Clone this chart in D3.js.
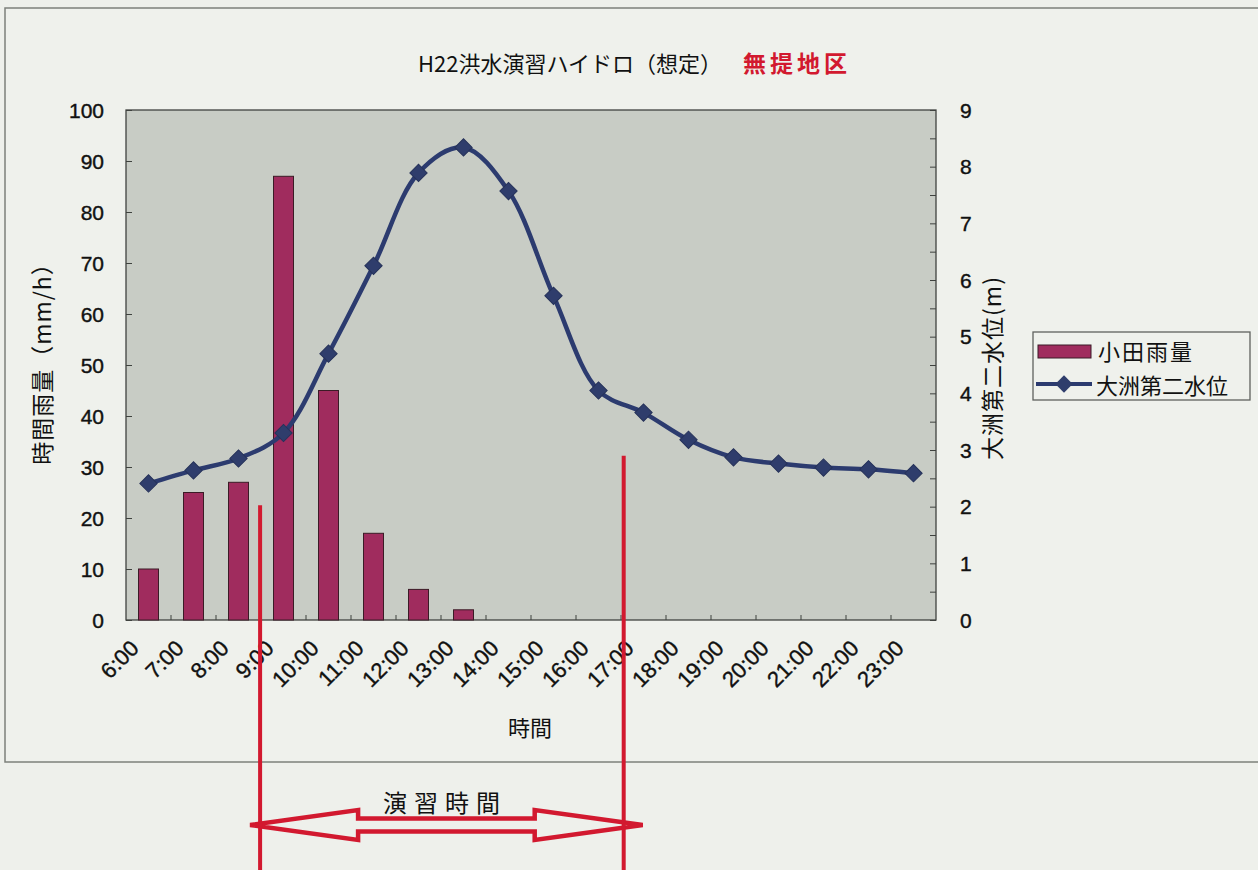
<!DOCTYPE html>
<html>
    <head>
        <meta charset="utf-8">
        <title>H22洪水演習ハイドロ</title>
        <script src="https://d3js.org/d3.v7.min.js"></script>
        <style>
            body {
                margin:0;
                background:#eef0eb;
            }
            svg {
                display:block;
                font-family:"Liberation Sans", Arial, sans-serif;
            }
            .jp {
                font-family:"Noto Sans CJK JP", sans-serif;
            }
            .num {
                stroke:#111;
                stroke-width:0.4px;
            }
        </style>
    </head>
    <body>
        <svg id="chart" width="1258" height="870"></svg>
    </body>
    <script>

        // data
        const hours = ['6:00','7:00','8:00','9:00','10:00','11:00','12:00','13:00','14:00',
                       '15:00','16:00','17:00','18:00','19:00','20:00','21:00','22:00','23:00'];
        const rain = [10, 25, 27, 87, 45, 17, 6, 2, 0, 0, 0, 0, 0, 0, 0, 0, 0, 0];   // 小田雨量 mm/h
        const level = [2.41, 2.64, 2.85, 3.30, 4.70, 6.25, 7.89, 8.34, 7.57,
                       5.72, 4.05, 3.66, 3.18, 2.87, 2.76, 2.69, 2.66, 2.59];      // 大洲第二水位 m
        const rainTicks = d3.range(0, 101, 10);
        const levelTicks = d3.range(0, 10, 1);
        // drill time span (hours) and where the red marker lines start (in mm/h)
        const drillHours = [8.48, 16.56];
        const drillLineTop = [22.5, 32.2];

        const svg = d3.select('#chart');
        const red = '#d2192f';
        const ink = '#111';

        // plot box
        const plotL = 126, plotR = 936, plotT = 110, plotB = 620;

        const x = d3.scaleBand().domain(hours).range([plotL, plotR]);
        const bw = x.bandwidth();
        const yRain = d3.scaleLinear().domain([0, 100]).range([plotB, plotT]);
        const yLevel = d3.scaleLinear().domain([0, 9]).range([plotB, plotT]);
        const hourX = d3.scaleLinear().domain([6, 23]).range([x('6:00') + bw / 2, x('23:00') + bw / 2]);

        // outer frame of the chart
        svg.append('rect')
            .attr('x', 5).attr('y', 8)
            .attr('width', 1270).attr('height', 754)
            .attr('fill', '#eff1ec')
            .attr('stroke', '#7d807b')
            .attr('stroke-width', 1.5);

        // plot background
        svg.append('rect')
            .attr('x', plotL).attr('y', plotT)
            .attr('width', plotR - plotL).attr('height', plotB - plotT)
            .attr('fill', '#c8ccc5')
            .attr('stroke', '#3f423f')
            .attr('stroke-width', 1.3);

        // title
        svg.append('text')
            .attr('class', 'jp')
            .attr('x', 418).attr('y', 72)
            .attr('font-size', 22)
            .attr('fill', ink)
            .text('H22洪水演習ハイドロ（想定）');
        svg.append('text')
            .attr('class', 'jp')
            .attr('x', 743).attr('y', 72)
            .attr('font-size', 23)
            .attr('font-weight', 'bold')
            .attr('letter-spacing', 4)
            .attr('fill', red)
            .text('無提地区');

        // bars
        svg.append('g').selectAll('rect')
            .data(rain)
            .join('rect')
            .attr('x', (d, i) => x(hours[i]) + bw / 2 - 10)
            .attr('y', d => yRain(d))
            .attr('width', 20)
            .attr('height', d => yRain(0) - yRain(d))
            .attr('fill', '#a02c5e')
            .attr('stroke', '#3b1b26')
            .attr('stroke-width', 1);

        // left axis
        const axisL = svg.append('g').attr('transform', `translate(${plotL},0)`)
            .call(d3.axisRight(yRain).tickValues(rainTicks).tickSize(6).tickFormat(''));
        axisL.select('.domain').remove();
        axisL.selectAll('line').attr('stroke', '#3f423f');
        svg.append('g').selectAll('text')
            .data(rainTicks)
            .join('text')
            .attr('class', 'num')
            .attr('x', 104)
            .attr('y', d => yRain(d))
            .attr('dy', '0.36em')
            .attr('text-anchor', 'end')
            .attr('font-size', 21)
            .attr('fill', ink)
            .text(d => d);

        // right axis
        const axisR = svg.append('g').attr('transform', `translate(${plotR},0)`)
            .call(d3.axisLeft(yLevel).tickValues(d3.range(0, 9.01, 0.5)).tickSize(6).tickFormat(''));
        axisR.select('.domain').remove();
        axisR.selectAll('line').attr('stroke', '#3f423f');
        svg.append('g').selectAll('text')
            .data(levelTicks)
            .join('text')
            .attr('class', 'num')
            .attr('x', 960)
            .attr('y', d => yLevel(d))
            .attr('dy', '0.36em')
            .attr('font-size', 21)
            .attr('fill', ink)
            .text(d => d);

        // bottom axis ticks (category boundaries) and rotated labels
        svg.append('g').selectAll('line')
            .data(hours.slice(1))
            .join('line')
            .attr('x1', d => x(d)).attr('x2', d => x(d))
            .attr('y1', plotB).attr('y2', plotB - 5)
            .attr('stroke', '#3f423f');
        svg.append('g').selectAll('text')
            .data(hours)
            .join('text')
            .attr('class', 'num')
            .attr('transform', d => `translate(${x(d) + bw / 2 - 14},${plotB + 24}) rotate(-45)`)
            .attr('text-anchor', 'end')
            .attr('dy', '0.36em')
            .attr('font-size', 22)
            .attr('fill', ink)
            .text(d => d);

        // axis titles
        svg.append('text')
            .attr('class', 'jp')
            .attr('transform', 'translate(51,358) rotate(-90)')
            .attr('text-anchor', 'middle')
            .attr('font-size', 23)
            .attr('letter-spacing', 1)
            .attr('fill', ink)
            .text('時間雨量（mm/h）');
        svg.append('text')
            .attr('class', 'jp')
            .attr('transform', 'translate(1001,368) rotate(-90)')
            .attr('text-anchor', 'middle')
            .attr('font-size', 23)
            .attr('letter-spacing', 1)
            .attr('fill', ink)
            .text('大洲第二水位(m)');
        svg.append('text')
            .attr('class', 'jp')
            .attr('x', 530).attr('y', 736)
            .attr('text-anchor', 'middle')
            .attr('font-size', 22)
            .attr('fill', ink)
            .text('時間');

        // water level line
        const line = d3.line()
            .x((d, i) => x(hours[i]) + bw / 2)
            .y(d => yLevel(d))
            .curve(d3.curveCatmullRom.alpha(0.5));
        svg.append('path')
            .datum(level)
            .attr('d', line)
            .attr('fill', 'none')
            .attr('stroke', '#2c3b6f')
            .attr('stroke-width', 4.5);

        const diamond = d3.symbol(d3.symbolSquare, 150);
        svg.append('g').selectAll('path')
            .data(level)
            .join('path')
            .attr('transform', (d, i) => `translate(${x(hours[i]) + bw / 2},${yLevel(d)}) rotate(45)`)
            .attr('d', diamond)
            .attr('fill', '#2f3d6c')
            .attr('stroke', '#26325a')
            .attr('stroke-width', 1);

        // legend
        const legend = svg.append('g');
        legend.append('rect')
            .attr('x', 1033).attr('y', 332)
            .attr('width', 217).attr('height', 68)
            .attr('fill', '#eff1ec')
            .attr('stroke', '#5f625e')
            .attr('stroke-width', 1.3);
        legend.append('rect')
            .attr('x', 1038).attr('y', 345)
            .attr('width', 53).attr('height', 13)
            .attr('fill', '#a02c5e')
            .attr('stroke', '#3b1b26');
        legend.append('text')
            .attr('class', 'jp')
            .attr('x', 1098).attr('y', 360)
            .attr('font-size', 22)
            .attr('letter-spacing', 2)
            .attr('fill', ink)
            .text('小田雨量');
        legend.append('line')
            .attr('x1', 1036).attr('x2', 1092)
            .attr('y1', 384).attr('y2', 384)
            .attr('stroke', '#2c3b6f')
            .attr('stroke-width', 4);
        legend.append('path')
            .attr('transform', 'translate(1064,384) rotate(45)')
            .attr('d', diamond)
            .attr('fill', '#2f3d6c');
        legend.append('text')
            .attr('class', 'jp')
            .attr('x', 1096).attr('y', 394)
            .attr('font-size', 22)
            .attr('fill', ink)
            .text('大洲第二水位');

        // drill period annotation
        const xs = hourX(drillHours[0]), xe = hourX(drillHours[1]);
        const cy = 825, head = 108;
        const tipL = xs - 10, tipR = xe + 19;
        const arrowPts = [
            [tipL, cy], [tipL + head, cy - 15], [tipL + head, cy - 6.5],
            [tipR - head, cy - 6.5], [tipR - head, cy - 15], [tipR, cy],
            [tipR - head, cy + 15], [tipR - head, cy + 6.5],
            [tipL + head, cy + 6.5], [tipL + head, cy + 15]
        ];
        svg.append('path')
            .attr('d', d3.line()(arrowPts) + 'Z')
            .attr('fill', '#eef0eb')
            .attr('stroke', red)
            .attr('stroke-width', 4.5)
            .attr('stroke-linejoin', 'miter');

        svg.append('g').selectAll('line')
            .data(drillHours)
            .join('line')
            .attr('x1', d => hourX(d)).attr('x2', d => hourX(d))
            .attr('y1', (d, i) => yRain(drillLineTop[i]))
            .attr('y2', 870)
            .attr('stroke', red)
            .attr('stroke-width', 4);

        svg.append('text')
            .attr('class', 'jp')
            .attr('x', (xs + xe) / 2 + 3).attr('y', 812)
            .attr('text-anchor', 'middle')
            .attr('font-size', 24)
            .attr('letter-spacing', 7)
            .attr('fill', ink)
            .text('演習時間');

    </script>
</html>
